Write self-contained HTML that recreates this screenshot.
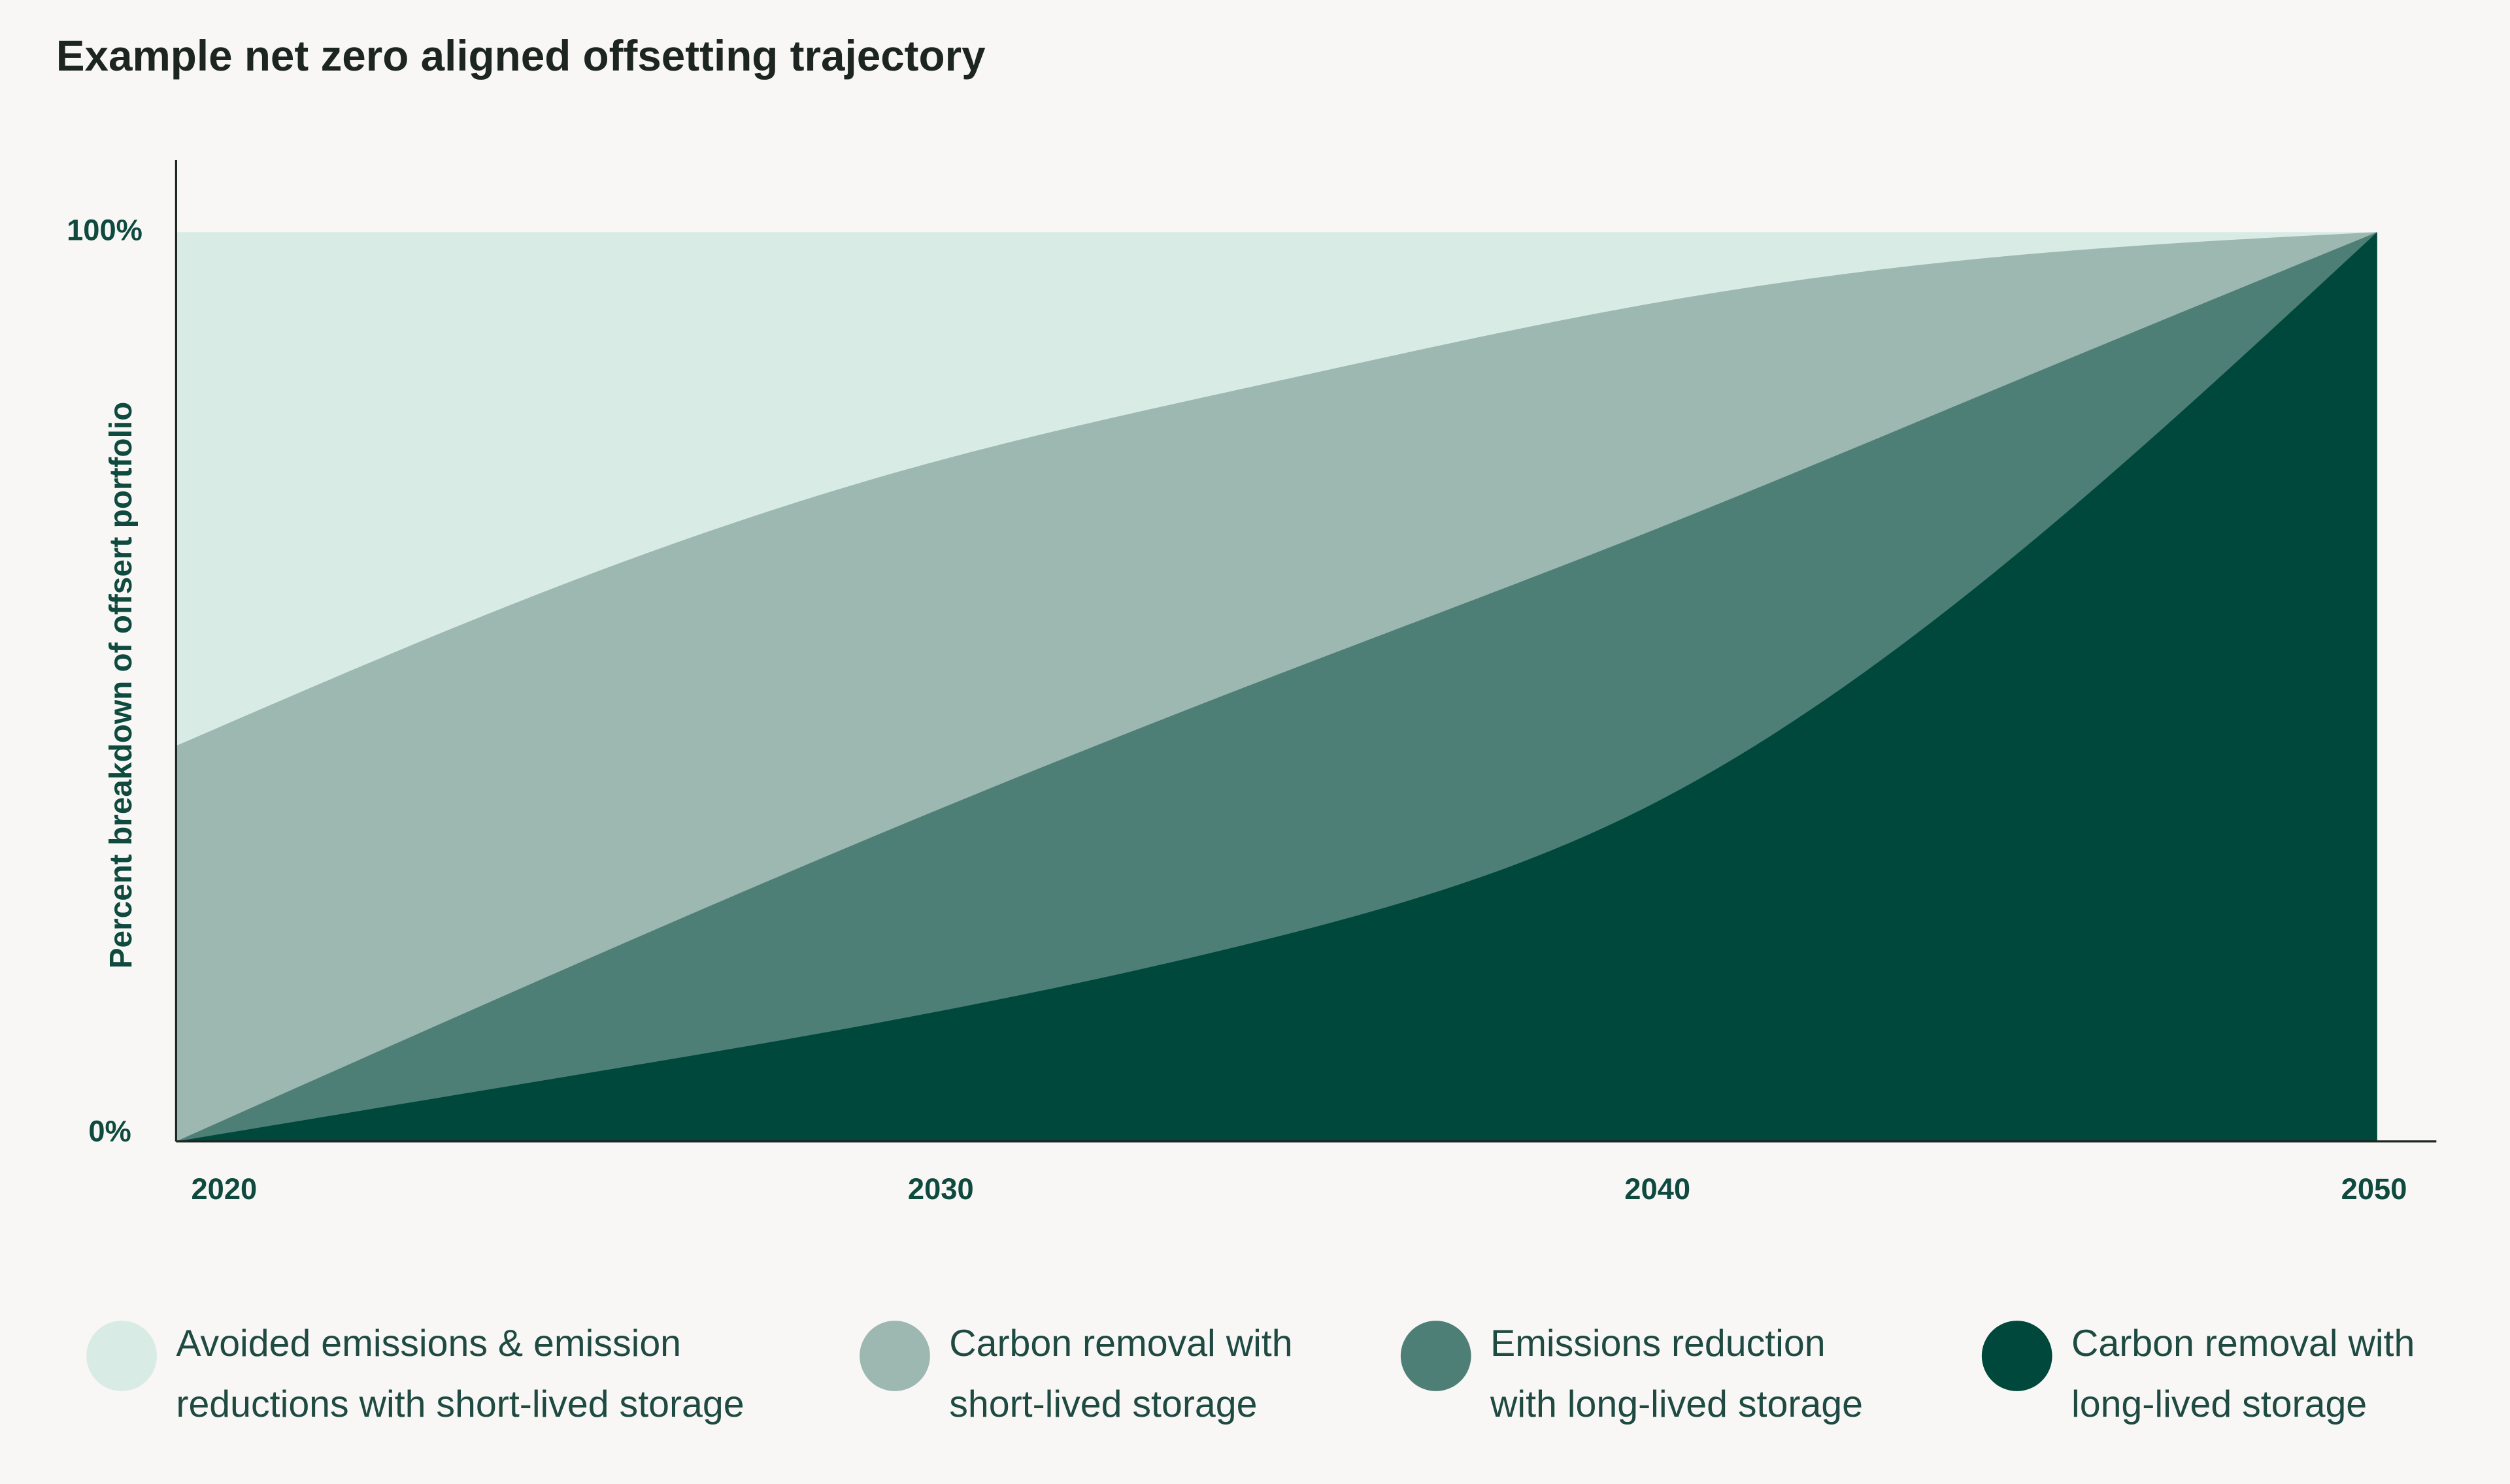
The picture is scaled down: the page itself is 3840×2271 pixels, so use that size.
<!DOCTYPE html>
<html><head><meta charset="utf-8"><style>
html,body{margin:0;padding:0;background:#f8f7f5;}
svg{display:block;font-family:"Liberation Sans",sans-serif;}
</style></head><body>
<svg id="chart" width="3840" height="2271" viewBox="0 0 1568 927" preserveAspectRatio="none" xmlns="http://www.w3.org/2000/svg">
<rect width="1568" height="927" fill="#f8f7f5"/>
<text x="35" y="44" font-size="26.8" font-weight="bold" fill="#1d2523">Example net zero aligned offsetting trajectory</text>
<g id="areas"></g>
<line x1="110" y1="100" x2="110" y2="713" stroke="#1d2523" stroke-width="1.3"/>
<line x1="110" y1="713" x2="1522" y2="713" stroke="#1d2523" stroke-width="1.3"/>
<g id="yticks" font-size="18.5" font-weight="bold" fill="#0f4a3e"></g>
<g id="xticks" font-size="18.5" font-weight="bold" fill="#0f4a3e"></g>
<text transform="translate(82,428) rotate(-90)" text-anchor="middle" font-size="19.5" font-weight="bold" fill="#0f4a3e">Percent breakdown of offsert portfolio</text>
<g id="legend" font-size="23.4" fill="#1f4a42"></g>
</svg>
<script>
const years = [2020, 2025, 2030, 2035, 2040, 2045, 2050];
// cumulative boundaries (percent)
const darkTop = [0, 6.7, 13.7, 22.5, 36.6, 64, 100];
const midTop = [0, 17.9, 35.2, 51.3, 66.8, 83.4, 100];
const lightMidTop = [43.5, 60.4, 74, 83.6, 92, 97.4, 100];
const topLine = [100, 100, 100, 100, 100, 100, 100];
const yTickVals = [0, 100];
const xTickVals = [2020, 2030, 2040, 2050];
const seriesNames = ["Avoided emissions & emission|reductions with short-lived storage","Carbon removal with|short-lived storage","Emissions reduction|with long-lived storage","Carbon removal with|long-lived storage"];
const colors = ["#d9ebe5","#9db7b1","#4e7f76","#00483b"];
const NS="http://www.w3.org/2000/svg";
const xS = y => 110 + (y-2020)/30*1375;
const yS = v => 713 - v/100*568;
function mk(tag, attrs, parent){const e=document.createElementNS(NS,tag);for(const k in attrs)e.setAttribute(k,attrs[k]);parent.appendChild(e);return e;}
function spline(xs, ys){
  const n=xs.length, h=[], a=[], l=[1], mu=[0], z=[0], c=new Array(n).fill(0), b=[], d=[];
  for(let i=0;i<n-1;i++)h.push(xs[i+1]-xs[i]);
  for(let i=1;i<n-1;i++)a[i]=3/h[i]*(ys[i+1]-ys[i])-3/h[i-1]*(ys[i]-ys[i-1]);
  for(let i=1;i<n-1;i++){l[i]=2*(xs[i+1]-xs[i-1])-h[i-1]*mu[i-1];mu[i]=h[i]/l[i];z[i]=(a[i]-h[i-1]*z[i-1])/l[i];}
  l[n-1]=1;z[n-1]=0;
  for(let j=n-2;j>=0;j--){c[j]=z[j]-mu[j]*c[j+1];b[j]=(ys[j+1]-ys[j])/h[j]-h[j]*(c[j+1]+2*c[j])/3;d[j]=(c[j+1]-c[j])/(3*h[j]);}
  return x=>{let j=Math.min(n-2,Math.max(0,xs.findIndex((v,k)=>k<n-1&&x>=v&&x<=xs[k+1])));const t=x-xs[j];return ys[j]+b[j]*t+c[j]*t*t+d[j]*t*t*t;};
}
function curvePts(vals){
  const f=spline(years, vals);const pts=[];
  for(let y=2020;y<=2050.0001;y+=0.25)pts.push([xS(y),yS(Math.min(100,Math.max(0,f(y))))]);
  return pts;
}
const areas=document.getElementById('areas');
const bounds=[topLine, lightMidTop, midTop, darkTop];
const areaNames=['area-avoided-emissions','area-removal-short-lived','area-reduction-long-lived','area-removal-long-lived'];
bounds.forEach((b,i)=>{
  const pts=curvePts(b);
  const d=`M${xS(2020)},${yS(0)} `+pts.map(p=>'L'+p[0].toFixed(2)+','+p[1].toFixed(2)).join(' ')+` L${xS(2050)},${yS(0)} Z`;
  const el=mk('path',{d:d,fill:colors[i]},areas);
  
  
});
const yt=document.getElementById('yticks');
yTickVals.forEach(v=>{
  const t=mk('text',{x:v===100?89:82,y:v===100?yS(v)+5:yS(v)-0,'text-anchor':'end'},yt);t.textContent=v+'%';
  
  
});
const xt=document.getElementById('xticks');
const labX = v => 140 + (v-2020)/10*447.7;
xTickVals.forEach(v=>{
  const t=mk('text',{x:labX(v),y:749,'text-anchor':'middle'},xt);t.textContent=v;
  
  
});
const lg=document.getElementById('legend');
const lx=[76,559,897,1260];
seriesNames.forEach((n,i)=>{
  const g=mk('g',{},lg);
  
  
  const c=mk('circle',{cx:lx[i],cy:847,r:22,fill:colors[i]},g);
  
  
  const parts=n.split('|');
  parts.forEach((p,j)=>{const t=mk('text',{x:lx[i]+34,y:847+j*38},g);t.textContent=p;
    
    });
});
</script>
</body></html>
